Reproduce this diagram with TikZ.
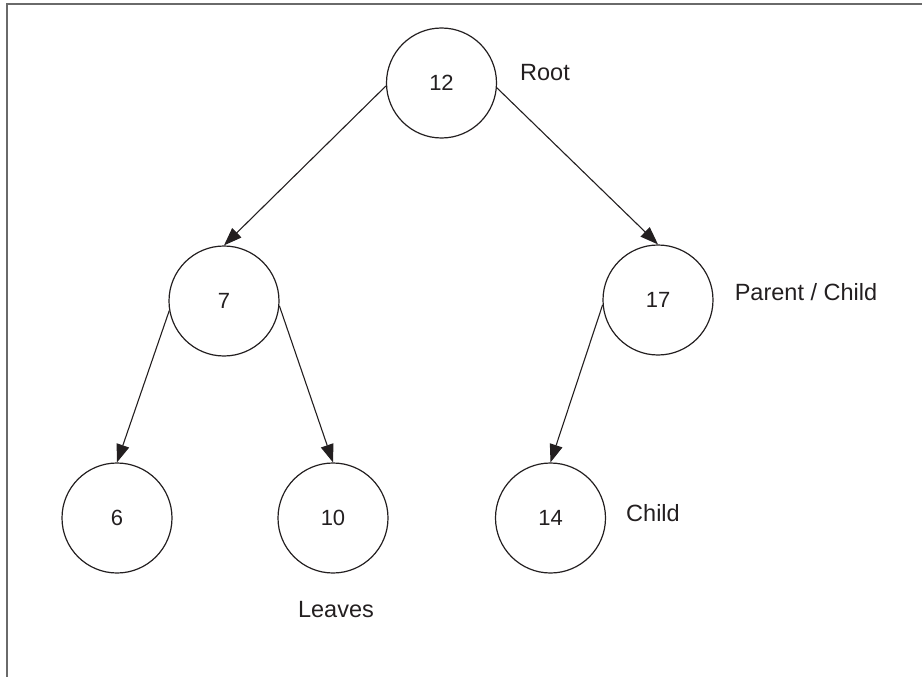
\documentclass[tikz,border=0pt]{standalone}
\usepackage{fontspec}
\setmainfont{Liberation Sans}
\usetikzlibrary{arrows.meta}
\definecolor{ink}{HTML}{231F20}
\definecolor{framegray}{HTML}{6A6A6A}
\begin{document}
\begin{tikzpicture}[x=1pt,y=-1pt,
  every node/.style={font=\fontsize{22}{26}\selectfont, text=ink},
  treenode/.style={circle, draw=ink, line width=1.2pt, minimum size=110pt, inner sep=0pt},
  edge/.style={draw=ink, line width=1.1pt, -{Triangle[length=18pt,width=13pt]}},
  note/.style={inner sep=0pt, font=\fontsize{23.5}{28}\selectfont}]
\useasboundingbox (0,0) rectangle (922,677);
% open frame: top and left sides only
\draw[framegray, line width=2pt] (7,677) -- (7,4.5) -- (922,4.5);

% tree nodes
\node[treenode] (n12) at (441.5,83) {12};
\node[treenode] (n7)  at (224,301)  {7};
\node[treenode] (n17) at (658,300)  {17};
\node[treenode] (n6)  at (117,518)  {6};
\node[treenode] (n10) at (333,518)  {10};
\node[treenode] (n14) at (550.5,518) {14};

% annotations
\node[note] (lroot)   at (545,73)  {Root};
\node[note] (lparent) at (806,292) {Parent / Child};
\node[note] (lchild)  at (653,513) {Child};
\node[note] (lleaves) at (336,610) {Leaves};

% edges
\draw[edge] (n12.183) -- (n7.north);
\draw[edge] (n12.-5)  -- (n17.north);
\draw[edge] (n7.190)  -- (n6.north);
\draw[edge] (n7.-5)   -- (n10.north);
\draw[edge] (n17.185) -- (n14.north);
\end{tikzpicture}
\end{document}
